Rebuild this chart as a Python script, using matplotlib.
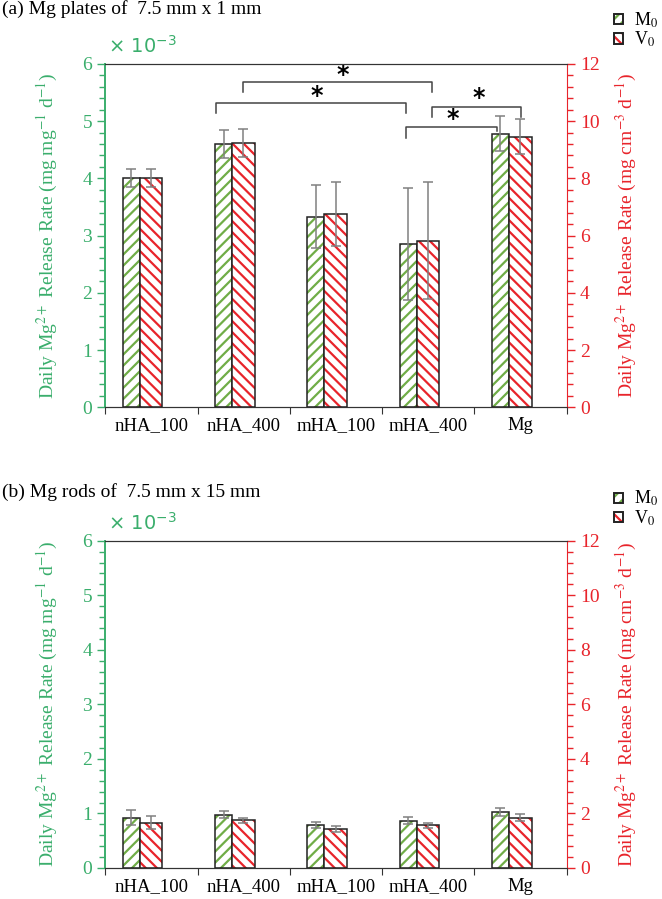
import matplotlib
matplotlib.use('Agg')
import matplotlib.pyplot as plt
from matplotlib.patches import Rectangle
from matplotlib.legend_handler import HandlerTuple
import numpy as np

plt.rcParams['font.family'] = ['Liberation Serif', 'DejaVu Serif']
plt.rcParams['mathtext.fontset'] = 'stix'
plt.rcParams['hatch.linewidth'] = 1.6

GREEN_TXT = '#3aae6c'
GREEN = '#70ad47'
RED = '#e8242b'
ERR = '#808080'

groups = ['nHA_100', 'nHA_400', 'mHA_100', 'mHA_400', 'Mg']

# (a) plates: M0 in 1e-3 mg/mg/d (left axis), V0 in mg/cm3/d (right axis)
plate_m0 = [4.01, 4.60, 3.33, 2.85, 4.78]
plate_m0_err = [0.16, 0.24, 0.55, 0.98, 0.31]
plate_v0 = [8.02, 9.24, 6.74, 5.82, 9.46]
plate_v0_err = [0.32, 0.48, 1.12, 2.04, 0.62]

# (b) rods
rod_m0 = [0.92, 0.98, 0.79, 0.87, 1.03]
rod_m0_err = [0.14, 0.07, 0.06, 0.06, 0.07]
rod_v0 = [1.66, 1.75, 1.43, 1.56, 1.85]
rod_v0_err = [0.24, 0.10, 0.10, 0.10, 0.14]

# significance brackets for panel (a): x0, x1, y, left leg end, right leg end, star x, star y
plate_sig = [
    (0.99, 3.04, 5.68, 5.50, 5.50, 2.07, 5.80),
    (0.70, 2.76, 5.32, 5.14, 5.14, 1.79, 5.43),
    (3.04, 4.01, 5.25, 5.07, 5.07, 3.55, 5.40),
    (2.76, 3.74, 4.89, 4.70, 4.82, 3.27, 5.04),
]


def hbar(ax, x, h, w, color, hatch):
    ax.bar(x, h, w, color='white', edgecolor=color, hatch=hatch, linewidth=0, zorder=2)
    ax.bar(x, h, w, fill=False, edgecolor='#222222', linewidth=1.1, zorder=3)


def draw_panel(ax, m0, m0_err, v0, v0_err, sig=None):
    x = np.arange(len(groups))
    wg, wr = 0.185, 0.245
    xg = x - 0.31 + wg / 2
    xr = x - 0.125 + wr / 2

    hbar(ax, xg, m0, wg, GREEN, '///')
    ax.errorbar(xg, m0, yerr=m0_err, fmt='none', ecolor=ERR, elinewidth=1.1,
                capsize=3.5, capthick=1.1, zorder=4)
    ax.set_ylim(0, 6)
    ax.set_xlim(-0.5, len(groups) - 0.5)

    ax2 = ax.twinx()
    hbar(ax2, xr, v0, wr, RED, '\\\\\\')
    ax2.errorbar(xr, v0, yerr=v0_err, fmt='none', ecolor=ERR, elinewidth=1.1,
                 capsize=3.5, capthick=1.1, zorder=4)
    ax2.set_ylim(0, 12)

    ax.set_yticks(np.arange(0, 7, 1))
    ax.set_yticks(np.arange(0, 6.01, 0.2), minor=True)
    ax2.set_yticks(np.arange(0, 13, 2))
    ax2.set_yticks(np.arange(0, 12.01, 0.4), minor=True)

    ax.set_xticks(np.arange(-0.5, len(groups), 1))
    ax.set_xticklabels([])
    ax.set_xticks(x, minor=True)
    ax.set_xticklabels(groups, minor=True, fontsize=13.5)
    ax.tick_params(axis='x', which='major', direction='out', length=5, color='#333333')
    ax.tick_params(axis='x', which='minor', length=0, pad=7)

    ax.tick_params(axis='y', which='both', direction='out', colors=GREEN_TXT, labelsize=14)
    ax.tick_params(axis='y', which='major', length=6, width=1)
    ax.tick_params(axis='y', which='minor', length=4, width=1)
    ax2.tick_params(axis='y', which='both', direction='out', colors=RED, labelsize=14)
    ax2.tick_params(axis='y', which='major', length=6, width=1)
    ax2.tick_params(axis='y', which='minor', length=4, width=1)

    for a in (ax, ax2):
        a.spines['top'].set_color('#333333')
        a.spines['bottom'].set_color('#333333')
    ax.spines['left'].set_color(GREEN_TXT)
    ax.spines['left'].set_linewidth(1.4)
    ax.spines['right'].set_visible(False)
    ax2.spines['left'].set_visible(False)
    ax2.spines['right'].set_color(RED)

    ax.set_ylabel('Daily Mg$^{2+}$ Release Rate (mg mg$^{-1}$ d$^{-1}$)',
                  color=GREEN_TXT, fontsize=14, labelpad=16)
    ax2.set_ylabel('Daily Mg$^{2+}$ Release Rate (mg cm$^{-3}$ d$^{-1}$)',
                   color=RED, fontsize=14, labelpad=10)
    ax.text(0.005, 1.02, r'$\times\ 10^{-3}$', transform=ax.transAxes, color=GREEN_TXT,
            fontsize=14, math_fontfamily='dejavusans', va='bottom', ha='left')

    if sig:
        for x0, x1, y, yl, yr, sx, sy in sig:
            ax.plot([x0, x0, x1, x1], [yl, y, y, yr], color='#444444', lw=1.1,
                    zorder=5, clip_on=False)
            ax.text(sx, sy, '*', ha='center', va='center', fontsize=17,
                    fontweight='bold', family='DejaVu Sans', zorder=6)

    hg = (Rectangle((0, 0), 1, 1, facecolor='white', edgecolor=GREEN, hatch='///', lw=0),
          Rectangle((0, 0), 1, 1, fill=False, edgecolor='#222222', lw=1.4))
    hr = (Rectangle((0, 0), 1, 1, facecolor='white', edgecolor=RED, hatch='\\\\\\', lw=0),
          Rectangle((0, 0), 1, 1, fill=False, edgecolor='#222222', lw=1.4))
    return [hg, hr]


fig = plt.figure(figsize=(6.62, 8.99), dpi=100)
ax_a = fig.add_axes([0.159, 0.547, 0.697, 0.382])
ax_b = fig.add_axes([0.159, 0.0345, 0.697, 0.364])

handles = draw_panel(ax_a, plate_m0, plate_m0_err, plate_v0, plate_v0_err, plate_sig)
draw_panel(ax_b, rod_m0, rod_m0_err, rod_v0, rod_v0_err)

fig.text(0.003, 1.0, '(a) Mg plates of  7.5 mm x 1 mm', fontsize=14, va='top', ha='left')
fig.text(0.003, 0.463, '(b) Mg rods of  7.5 mm x 15 mm', fontsize=14, va='top', ha='left')

for ymid in (0.9666, 0.4344):
    fig.legend(handles, ['M$_0$', 'V$_0$'], loc='center left', bbox_to_anchor=(0.928, ymid),
               frameon=False, fontsize=13, handlelength=0.5, handleheight=0.5,
               handletextpad=0.6, labelspacing=0.0, borderpad=0, borderaxespad=0,
               handler_map={tuple: HandlerTuple(ndivide=1)})

plt.savefig('out.png', dpi=100)
